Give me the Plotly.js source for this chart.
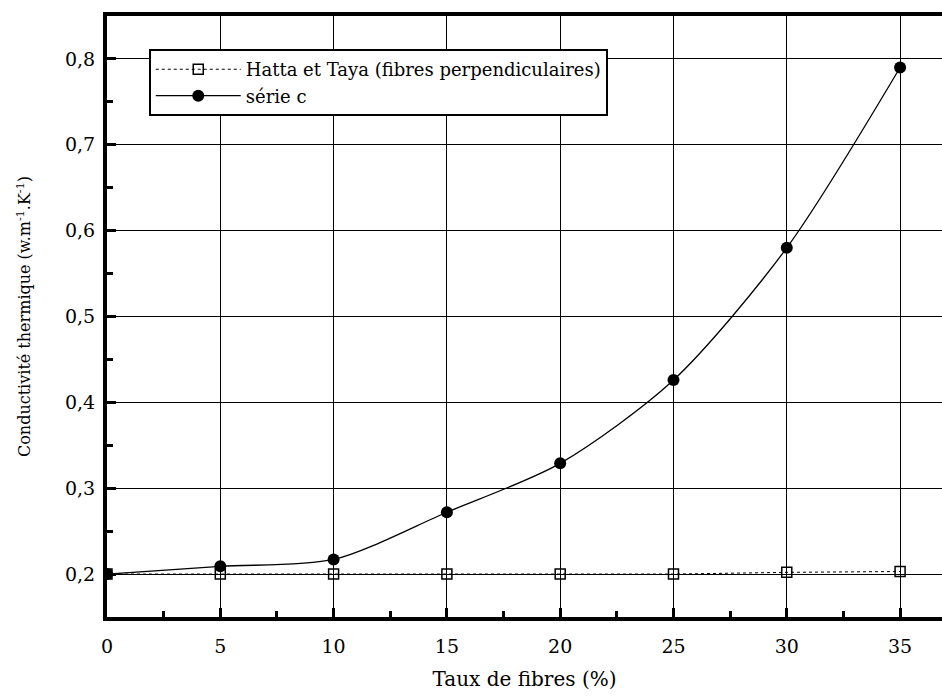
<!DOCTYPE html>
<html>
<head>
<meta charset="utf-8">
<script src="https://cdn.plot.ly/plotly-3.0.1.min.js"></script>
<style>
html,body{margin:0;padding:0;background:#fff;}
#chart{width:942px;height:698px;}
</style>
</head>
<body>
<div id="chart"></div>
<script>
// Data
const tauxFibres = [0, 5, 10, 15, 20, 25, 30, 35];
const hattaTaya = [0.2, 0.2, 0.2, 0.2, 0.2, 0.2, 0.202, 0.203];
const serieC = [0.2, 0.209, 0.217, 0.272, 0.329, 0.426, 0.58, 0.79];
const seriesNames = ['Hatta et Taya (fibres perpendiculaires)', 'série c'];
const xTickVals = [0, 5, 10, 15, 20, 25, 30, 35];
const yTickVals = [0.2, 0.3, 0.4, 0.5, 0.6, 0.7, 0.8];

const FONT = 'DejaVu Serif';

const traces = [
  {
    x: tauxFibres, y: hattaTaya, name: seriesNames[0],
    mode: 'lines+markers', type: 'scatter',
    line: {color: 'black', width: 1, dash: 'dot'},
    marker: {symbol: 'square-open', size: 10, color: 'black', line: {width: 1.5, color: 'black'}}
  },
  {
    x: tauxFibres, y: serieC, name: seriesNames[1],
    mode: 'lines+markers', type: 'scatter',
    line: {color: 'black', width: 1.3, shape: 'spline', smoothing: 0.8},
    marker: {symbol: 'circle', size: 12, color: 'black'}
  }
];

const layout = {
  width: 942, height: 698,
  margin: {l: 107, r: 0, t: 16, b: 81},
  paper_bgcolor: '#fff', plot_bgcolor: '#fff',
  separators: ', ',
  font: {family: FONT, color: 'black', size: 18},
  showlegend: true,
  legend: {
    x: 0.05, y: 0.945, xanchor: 'left', yanchor: 'top',
    bgcolor: '#fff', bordercolor: 'black', borderwidth: 2,
    font: {family: FONT, size: 18, color: 'black'},
    itemwidth: 85, tracegroupgap: 0
  },
  xaxis: {
    range: [0, 36.85],
    tickvals: xTickVals, ticktext: xTickVals.map(String),
    ticks: 'inside', ticklen: 9, tickwidth: 3, tickcolor: 'black',
    minor: {dtick: 2.5, tick0: 0, ticks: 'inside', ticklen: 6, tickwidth: 3, tickcolor: 'black', showgrid: false},
    showline: true, linewidth: 4, linecolor: 'black', mirror: true,
    showgrid: true, gridcolor: 'black', gridwidth: 1,
    zeroline: false,
    tickfont: {family: FONT, size: 19, color: 'black'},
    ticklabelstandoff: 9,
    title: {text: 'Taux de fibres (%)', font: {family: FONT, size: 20, color: 'black'}, standoff: 17}
  },
  yaxis: {
    range: [0.15, 0.85],
    tickvals: yTickVals, tickformat: '.1f',
    ticks: 'inside', ticklen: 9, tickwidth: 3, tickcolor: 'black',
    minor: {dtick: 0.05, tick0: 0.15, ticks: 'inside', ticklen: 6, tickwidth: 3, tickcolor: 'black', showgrid: false},
    showline: true, linewidth: 4, linecolor: 'black', mirror: false,
    showgrid: true, gridcolor: 'black', gridwidth: 1,
    zeroline: false,
    tickfont: {family: FONT, size: 19, color: 'black'},
    ticklabelstandoff: 4,
    title: {text: 'Conductivité thermique (w.m<sup>-1</sup>.K<sup>-1</sup>)', font: {family: FONT, size: 16, color: 'black'}, standoff: 31}
  }
};

Plotly.newPlot('chart', traces, layout, {displayModeBar: false, staticPlot: true});
</script>
</body>
</html>
